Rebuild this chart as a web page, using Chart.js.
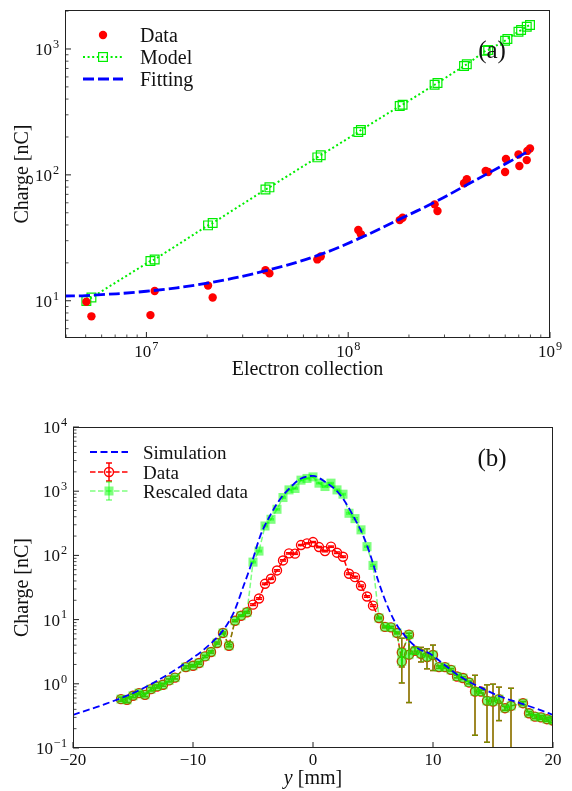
<!DOCTYPE html>
<html>
<head>
<meta charset="utf-8">
<script src="https://cdn.jsdelivr.net/npm/chart.js@4.4.0/dist/chart.umd.min.js"></script>
<style>
html, body { margin: 0; padding: 0; background: #fff; }
#wrapA { position: absolute; left: 0; top: 0; width: 572px; height: 395px; }
#wrapB { position: absolute; left: 0; top: 395px; width: 572px; height: 396px; }
</style>
</head>
<body>
<div id="wrapA"><canvas id="chartA" width="572" height="395"></canvas></div>
<div id="wrapB"><canvas id="chartB" width="572" height="396"></canvas></div>
<script>
// ---- Panel (a) : charge vs electron collection ----
const modelElectrons = [5.04e6, 5.34e6, 1.047e7, 1.099e7, 2.02e7, 2.13e7, 3.89e7, 4.07e7, 7.03e7, 7.31e7,
    1.122e8, 1.156e8, 1.80e8, 1.86e8, 2.68e8, 2.77e8, 3.75e8, 3.87e8, 4.80e8, 4.94e8,
    5.99e8, 6.15e8, 6.98e8, 7.19e8, 7.67e8, 7.96e8];
const modelCharge = [9.95, 10.6, 20.7, 21.3, 39.7, 41.4, 76.5, 79.6, 137.7, 143.2,
    218.8, 227, 352, 361, 520, 537, 733, 756, 969, 981,
    1164, 1202, 1372, 1416, 1504, 1552];
const dataElectrons = [5.04e6, 5.34e6, 1.047e7, 1.099e7, 2.02e7, 2.13e7, 3.89e7, 4.07e7, 7.03e7, 7.31e7,
    1.122e8, 1.156e8, 1.80e8, 1.86e8, 2.68e8, 2.77e8, 3.75e8, 3.87e8, 4.80e8, 4.94e8,
    5.99e8, 6.05e8, 6.98e8, 7.05e8, 7.67e8, 7.72e8, 7.96e8];
const dataCharge = [9.82, 7.52, 7.69, 11.94, 13.2, 10.6, 17.5, 16.5, 21.3, 22.5,
    36.5, 33.7, 43.7, 45.7, 58.3, 51.6, 85.7, 92.3, 107.4, 105.5,
    105.5, 133.7, 145, 117.5, 131, 155, 162];
const fitElectrons = [3.9e6, 5e6, 1e7, 2e7, 4e7, 7e7, 1.12e8, 1.8e8, 2.7e8, 3.8e8, 6e8, 8e8];
const fitCharge = [10.9, 11.0, 11.9, 13.8, 17.5, 22.8, 31, 44.5, 61, 82, 122, 157];
const xTicksA = [1e7, 1e8, 1e9];
const yTicksA = [10, 100, 1000];

// ---- Panel (b) : charge profile vs y ----
const simPos = [-20, -17.5, -14.7, -11.9, -10.2, -9.1, -7.5, -6.6, -5.8, -5.1, -4.4, -3.6, -2.75, -1.9, -1.1, 0,
    1.0, 2.1, 2.8, 3.5, 4.2, 4.9, 5.4, 6.1, 6.8, 7.7, 8.8, 9.75, 10.6, 12.25, 13.9, 15.6, 17.25, 18.9, 20];
const simCharge = [0.328, 0.47, 0.76, 1.47, 2.4, 3.4, 6.8, 13, 33, 77, 200, 410, 750, 1140, 1540, 1735,
    1400, 955, 626, 365, 200, 86.6, 42.2, 18.2, 9.4, 5.48, 3.5, 2.94, 2.23, 1.30, 0.888, 0.634, 0.50, 0.393, 0.328];

const posY = [-16, -15.5, -15, -14.5, -14, -13.5, -13, -12.5, -12, -11.5, -10.6, -10, -9.5, -9, -8.5, -8, -7.5, -7, -6.5, -6, -5.5,
    -5, -4.5, -4, -3.5, -3, -2.5, -2, -1.5, -1, -0.5, 0, 0.5, 1, 1.5, 2, 2.5, 3, 3.5, 4, 4.5, 5,
    5.5, 6, 6.5, 7, 7.4, 7.4, 8, 8, 8.5, 9, 9.5, 10, 10.5, 11, 11.5, 12, 12.5, 13, 13.5, 14, 14.5, 15, 15.5, 16, 16.5,
    17.5, 18, 18.5, 19, 19.5, 20];
const dataQ = [0.577, 0.562, 0.65, 0.716, 0.673, 0.826, 0.908, 0.965, 1.13, 1.25, 1.82, 1.91, 2.11, 2.67, 3.13, 4.32, 6.2, 3.92, 9.6, 11.5, 13.0,
    17.1, 21.3, 36.1, 43.3, 58.3, 83.5, 107.5, 106.4, 144.9, 154, 161.4, 134.8, 116.7, 136.8, 110.2, 95.4, 51.8, 45.8, 33.6, 22.9, 16.5,
    10.6, 7.69, 7.58, 6.2, 2.23, 3.08, 5.83, 2.84, 3.28, 2.94, 2.61, 2.81, 1.82, 1.82, 1.65, 1.30, 1.23, 1.05, 0.758, 0.758, 0.543, 0.529, 0.577, 0.417, 0.453,
    0.499, 0.348, 0.308, 0.30, 0.281, 0.267];
const dataErr = [0.04, 0.05, 0.04, 0.04, 0.04, 0.05, 0.05, 0.05, 0.06, 0.06, 0.08, 0.08, 0.09, 0.1, 0.12, 0.15, 0.2, 0.15, 0.3, 0.3, 0.4,
    0.5, 0.6, 1, 1, 1.5, 2, 2.5, 2.5, 3, 3, 3, 3, 3, 3, 3, 2.5, 1.5, 1.5, 1, 0.6, 0.5,
    0.3, 0.25, 0.25, 0.2, 0.4, 2.05, 0.3, 2.33, 0.4, 0.75, 0.9, 1.2, 0.08, 0.08, 0.07, 0.06, 0.06, 0.05, 0.6, 0.04, 0.42, 0.46, 0.31, 0.03, 0.40,
    0.03, 0.02, 0.02, 0.02, 0.02, 0.02];
const rescaledQ = [0.577, 0.562, 0.65, 0.716, 0.673, 0.826, 0.908, 0.965, 1.13, 1.25, 1.82, 1.91, 2.11, 2.67, 3.13, 4.32, 6.2, 3.92, 9.6, 11.5, 13.0,
    78.6, 116.8, 287, 365, 523, 797, 1048, 1102, 1486, 1579, 1671, 1334, 1183, 1334, 1048, 898, 453, 374, 250, 137, 69.8,
    10.6, 7.69, 7.58, 6.2, 2.23, 3.08, 5.83, 2.84, 3.28, 2.94, 2.61, 2.81, 1.82, 1.82, 1.65, 1.30, 1.23, 1.05, 0.758, 0.758, 0.543, 0.529, 0.577, 0.417, 0.453,
    0.499, 0.348, 0.308, 0.30, 0.281, 0.267];
const rescaledErr = [0.04, 0.05, 0.04, 0.04, 0.04, 0.05, 0.05, 0.05, 0.06, 0.06, 0.08, 0.08, 0.09, 0.1, 0.12, 0.15, 0.2, 0.15, 0.3, 0.3, 0.4,
    2, 3, 8, 8, 13, 19, 24, 24, 30, 30, 30, 30, 30, 30, 28, 23, 13, 12, 7, 3, 2,
    0.3, 0.25, 0.25, 0.2, 0.4, 2.05, 0.3, 2.33, 0.4, 0.75, 0.9, 1.2, 0.08, 0.08, 0.07, 0.06, 0.06, 0.05, 0.6, 0.04, 0.42, 0.46, 0.31, 0.03, 0.40,
    0.03, 0.02, 0.02, 0.02, 0.02, 0.02];
const xTicksB = [-20, -10, 0, 10, 20];
const yTicksB = [0.1, 1, 10, 100, 1000, 10000];

const serif = '"Liberation Serif", "DejaVu Serif", serif';
const RED = '#ff0000', LIME = '#00ee00', BLUE = '#0000ff';
const GREEN_A = 'rgba(0,255,0,0.5)';

const toPts = (xs, ys) => xs.map((x, i) => ({ x: x, y: ys[i] }));

// "10" with a superscript exponent
function drawPow(ctx, exp, x, y, size, align) {
    ctx.font = size + 'px ' + serif;
    const wb = ctx.measureText('10').width;
    const es = size * 0.72;
    ctx.font = es + 'px ' + serif;
    const we = ctx.measureText(exp).width;
    const total = wb + we + 1;
    const x0 = align === 'right' ? x - total : x - total / 2;
    ctx.textAlign = 'left';
    ctx.textBaseline = 'alphabetic';
    ctx.font = size + 'px ' + serif;
    ctx.fillText('10', x0, y);
    ctx.font = es + 'px ' + serif;
    ctx.fillText(exp, x0 + wb + 1, y - size * 0.42);
}

function expOf(v) {
    const e = Math.round(Math.log10(v));
    return e < 0 ? '\u2212' + (-e) : String(e);
}

function logMinors(min, max) {
    const out = [];
    for (let k = Math.floor(Math.log10(min)); k <= Math.ceil(Math.log10(max)); k++) {
        for (let m = 2; m <= 9; m++) {
            const v = m * Math.pow(10, k);
            if (v >= min && v <= max) out.push(v);
        }
    }
    return out;
}

function tick(ctx, x1, y1, x2, y2) {
    ctx.beginPath();
    ctx.moveTo(x1, y1);
    ctx.lineTo(x2, y2);
    ctx.stroke();
}

function dashSample(ctx, x1, x2, y, color, width, dash) {
    ctx.save();
    ctx.strokeStyle = color;
    ctx.lineWidth = width;
    ctx.setLineDash(dash);
    tick(ctx, x1, y, x2, y);
    ctx.restore();
}

function errBar(ctx, x, yTop, yBot, color, cap) {
    ctx.strokeStyle = color;
    ctx.lineWidth = 1.5;
    tick(ctx, x, yTop, x, yBot);
    tick(ctx, x - cap, yTop, x + cap, yTop);
    tick(ctx, x - cap, yBot, x + cap, yBot);
}

// frame, inward ticks and tick labels
function axesPlugin(opts) {
    return {
        id: 'axesDeco',
        afterDraw(chart) {
            const ctx = chart.ctx;
            const a = chart.chartArea;
            const xs = chart.scales.x, ys = chart.scales.y;
            ctx.save();
            ctx.strokeStyle = '#222';
            ctx.lineWidth = 1;
            ctx.strokeRect(Math.round(a.left) + 0.5, Math.round(a.top) + 0.5,
                Math.round(a.right - a.left) - 1, Math.round(a.bottom - a.top) - 1);
            ctx.fillStyle = '#111';
            // y ticks (log)
            opts.yTicks.forEach(v => {
                const py = ys.getPixelForValue(v);
                if (py > a.top - 1 && py < a.bottom + 1) {
                    tick(ctx, a.left, py, a.left + 6, py);
                }
                drawPow(ctx, expOf(v), a.left - 6, py + 6, opts.tickSize, 'right');
            });
            ctx.lineWidth = 0.8;
            logMinors(ys.min, ys.max).forEach(v => {
                const py = ys.getPixelForValue(v);
                tick(ctx, a.left, py, a.left + 3.5, py);
            });
            ctx.lineWidth = 1;
            // x ticks
            opts.xTicks.forEach(v => {
                const px = xs.getPixelForValue(v);
                tick(ctx, px, a.bottom, px, a.bottom - 6);
                if (opts.xLog) {
                    drawPow(ctx, expOf(v), px, a.bottom + 19, opts.tickSize, 'center');
                } else {
                    ctx.font = opts.tickSize + 'px ' + serif;
                    ctx.textAlign = 'center';
                    ctx.textBaseline = 'alphabetic';
                    const t = v < 0 ? '\u2212' + (-v) : String(v);
                    ctx.fillText(t, px, a.bottom + 17);
                }
            });
            if (opts.xLog) {
                ctx.lineWidth = 0.8;
                logMinors(xs.min, xs.max).forEach(v => {
                    const px = xs.getPixelForValue(v);
                    tick(ctx, px, a.bottom, px, a.bottom - 3.5);
                });
            }
            // y axis title
            ctx.save();
            ctx.translate(opts.yTitleX, (a.top + a.bottom) / 2);
            ctx.rotate(-Math.PI / 2);
            ctx.font = opts.titleSize + 'px ' + serif;
            ctx.textAlign = 'center';
            ctx.textBaseline = 'middle';
            ctx.fillText('Charge [nC]', 0, 0);
            ctx.restore();
            // x axis title
            const cx = (a.left + a.right) / 2;
            ctx.textBaseline = 'alphabetic';
            if (opts.xTitleItalic) {
                ctx.font = 'italic ' + opts.titleSize + 'px ' + serif;
                const w1 = ctx.measureText(opts.xTitleItalic).width;
                ctx.font = opts.titleSize + 'px ' + serif;
                const w2 = ctx.measureText(opts.xTitle).width;
                const x0 = cx - (w1 + w2) / 2;
                ctx.textAlign = 'left';
                ctx.font = 'italic ' + opts.titleSize + 'px ' + serif;
                ctx.fillText(opts.xTitleItalic, x0, opts.xTitleY);
                ctx.font = opts.titleSize + 'px ' + serif;
                ctx.fillText(opts.xTitle, x0 + w1, opts.xTitleY);
            } else {
                ctx.font = opts.titleSize + 'px ' + serif;
                ctx.textAlign = 'center';
                ctx.fillText(opts.xTitle, cx, opts.xTitleY);
            }
            // panel tag
            ctx.font = opts.tagSize + 'px ' + serif;
            ctx.textAlign = 'center';
            ctx.fillText(opts.tag, opts.tagX, opts.tagY);
            // legend
            opts.legend(ctx);
            ctx.restore();
        }
    };
}

// ---------- Panel (a) ----------
new Chart(document.getElementById('chartA'), {
    type: 'scatter',
    data: {
        datasets: [
            {
                label: 'Fitting',
                data: toPts(fitElectrons, fitCharge),
                showLine: true,
                borderColor: BLUE,
                borderWidth: 2.8,
                borderDash: [11, 4],
                pointRadius: 0,
                tension: 0.4
            },
            {
                label: 'Data',
                data: toPts(dataElectrons, dataCharge),
                showLine: false,
                pointStyle: 'circle',
                pointRadius: 4.2,
                pointBackgroundColor: RED,
                pointBorderColor: RED,
                pointBorderWidth: 0
            },
            {
                label: 'Model',
                data: toPts(modelElectrons, modelCharge),
                showLine: true,
                borderColor: LIME,
                borderWidth: 2,
                borderDash: [2, 2.6],
                pointStyle: 'rect',
                pointRadius: 6.2,
                pointBackgroundColor: 'rgba(0,0,0,0)',
                pointBorderColor: LIME,
                pointBorderWidth: 1.2
            }
        ]
    },
    options: {
        responsive: false,
        devicePixelRatio: 1,
        animation: false,
        events: [],
        layout: { padding: { left: 65, top: 10, right: 22, bottom: 57 } },
        scales: {
            x: { type: 'logarithmic', min: 3.95e6, max: 1e9, display: false },
            y: { type: 'logarithmic', min: 5.06, max: 2040, display: false }
        },
        plugins: { legend: { display: false }, tooltip: { enabled: false } }
    },
    plugins: [axesPlugin({
        xTicks: xTicksA, yTicks: yTicksA, xLog: true,
        tickSize: 17, titleSize: 20, tagSize: 25,
        yTitleX: 23, xTitle: 'Electron collection', xTitleY: 375,
        tag: '(a)', tagX: 492, tagY: 58,
        legend(ctx) {
            ctx.font = '20px ' + serif;
            ctx.textAlign = 'left';
            ctx.textBaseline = 'alphabetic';
            // Data
            ctx.fillStyle = RED;
            ctx.beginPath();
            ctx.arc(103, 35, 4.2, 0, Math.PI * 2);
            ctx.fill();
            // Model
            dashSample(ctx, 83, 123, 57, LIME, 2, [2, 2.6]);
            ctx.strokeStyle = LIME;
            ctx.lineWidth = 1.2;
            ctx.strokeRect(98.6, 52.6, 8.8, 8.8);
            // Fitting
            dashSample(ctx, 83, 123, 79, BLUE, 2.8, [11, 4]);
            ctx.fillStyle = '#111';
            ctx.fillText('Data', 140, 42);
            ctx.fillText('Model', 140, 64);
            ctx.fillText('Fitting', 140, 86);
        }
    })]
});

// ---------- Panel (b) ----------
const errorBarPlugin = {
    id: 'errorBars',
    beforeDatasetDraw(chart, args) {
        const ds = chart.data.datasets[args.index];
        if (!ds.yErr) return;
        const ctx = chart.ctx, a = chart.chartArea;
        const xs = chart.scales.x, ys = chart.scales.y;
        ctx.save();
        ctx.beginPath();
        ctx.rect(a.left, a.top, a.right - a.left, a.bottom - a.top);
        ctx.clip();
        ds.data.forEach((p, i) => {
            const e = ds.yErr[i];
            const px = xs.getPixelForValue(p.x);
            const top = ys.getPixelForValue(p.y + e);
            const low = p.y - e;
            const bot = low > 0 ? ys.getPixelForValue(low) : a.bottom + 20;
            errBar(ctx, px, top, bot, ds.errColor, 3);
        });
        ctx.restore();
    }
};

new Chart(document.getElementById('chartB'), {
    type: 'scatter',
    data: {
        datasets: [
            {
                label: 'Simulation',
                data: toPts(simPos, simCharge),
                showLine: true,
                borderColor: BLUE,
                borderWidth: 1.8,
                borderDash: [7, 3.5],
                pointRadius: 0,
                cubicInterpolationMode: 'monotone'
            },
            {
                label: 'Rescaled data',
                data: toPts(posY, rescaledQ),
                yErr: rescaledErr,
                errColor: GREEN_A,
                showLine: true,
                borderColor: GREEN_A,
                borderWidth: 1.5,
                borderDash: [5.5, 2.5],
                pointStyle: 'rect',
                pointRadius: 6.4,
                pointBackgroundColor: GREEN_A,
                pointBorderWidth: 0
            },
            {
                label: 'Data',
                data: toPts(posY, dataQ),
                yErr: dataErr,
                errColor: RED,
                showLine: true,
                borderColor: RED,
                borderWidth: 1.5,
                borderDash: [5.5, 2.5],
                pointStyle: 'circle',
                pointRadius: 4.5,
                pointBackgroundColor: 'rgba(0,0,0,0)',
                pointBorderColor: RED,
                pointBorderWidth: 1.4
            }
        ]
    },
    options: {
        responsive: false,
        devicePixelRatio: 1,
        animation: false,
        events: [],
        layout: { padding: { left: 73, top: 32, right: 19, bottom: 43 } },
        scales: {
            x: { type: 'linear', min: -20, max: 20, display: false },
            y: { type: 'logarithmic', min: 0.1, max: 10000, display: false }
        },
        plugins: { legend: { display: false }, tooltip: { enabled: false } }
    },
    plugins: [errorBarPlugin, axesPlugin({
        xTicks: xTicksB, yTicks: yTicksB, xLog: false,
        tickSize: 17, titleSize: 20, tagSize: 25,
        yTitleX: 23, xTitle: ' [mm]', xTitleItalic: 'y', xTitleY: 389,
        tag: '(b)', tagX: 492, tagY: 71,
        legend(ctx) {
            ctx.font = '19px ' + serif;
            ctx.textAlign = 'left';
            ctx.textBaseline = 'alphabetic';
            // Simulation
            dashSample(ctx, 90, 128, 57, BLUE, 1.8, [7, 3.5]);
            // Data
            dashSample(ctx, 90, 128, 77, RED, 1.5, [5.5, 2.5]);
            errBar(ctx, 109, 68, 86, RED, 3);
            ctx.strokeStyle = RED;
            ctx.lineWidth = 1.4;
            ctx.beginPath();
            ctx.arc(109, 77, 4.5, 0, Math.PI * 2);
            ctx.stroke();
            // Rescaled data
            dashSample(ctx, 90, 128, 96, GREEN_A, 1.5, [5.5, 2.5]);
            errBar(ctx, 109, 87, 105, GREEN_A, 3);
            ctx.fillStyle = GREEN_A;
            ctx.fillRect(104.5, 91.5, 9, 9);
            ctx.fillStyle = '#111';
            ctx.fillText('Simulation', 143, 64);
            ctx.fillText('Data', 143, 84);
            ctx.fillText('Rescaled data', 143, 103);
        }
    })]
});
</script>
</body>
</html>
